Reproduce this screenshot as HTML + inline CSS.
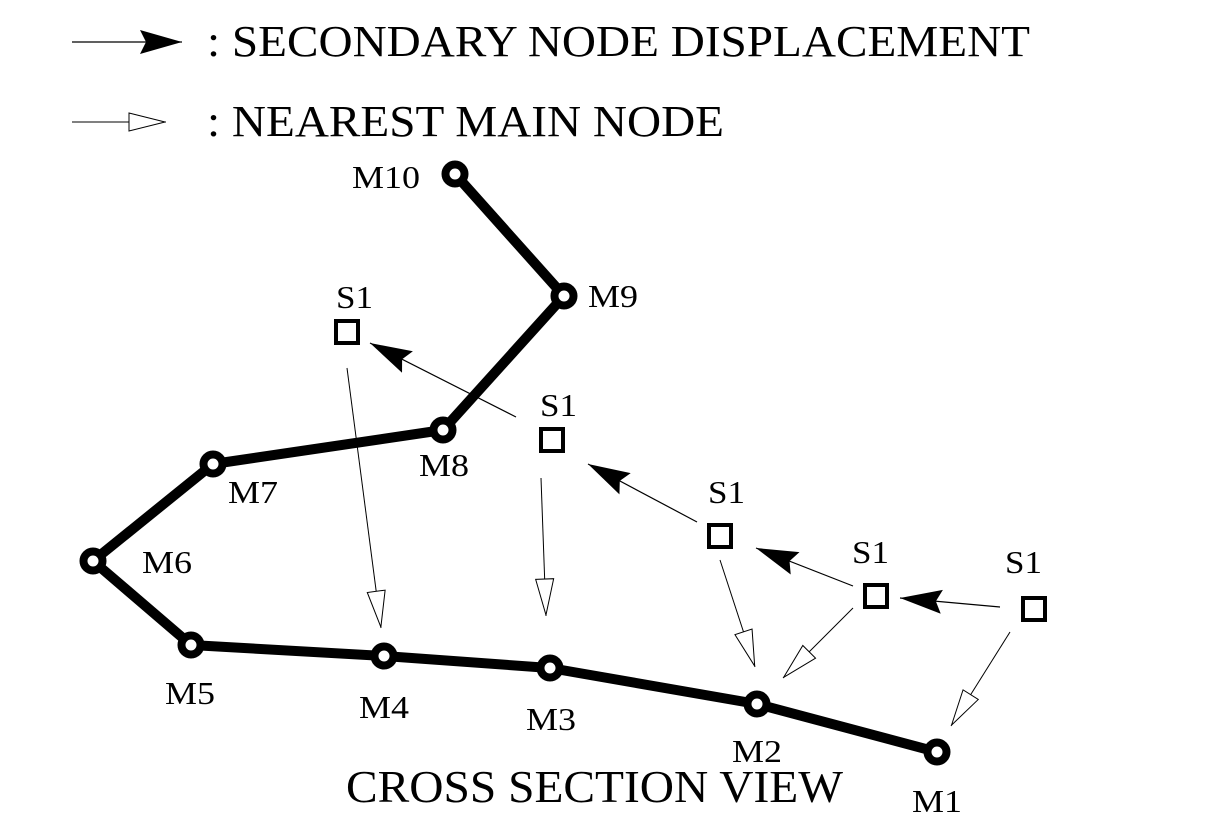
<!DOCTYPE html>
<html><head><style>body{margin:0;background:#fff}svg{display:block}text{font-family:"Liberation Serif",serif;fill:#000}</style></head>
<body>
<svg width="1228" height="830" viewBox="0 0 1228 830" xmlns="http://www.w3.org/2000/svg">
<defs>
<marker id="f" markerWidth="44" markerHeight="26" refX="42" refY="13" orient="auto" markerUnits="userSpaceOnUse"><path d="M0,1 L42,13 L0,25 L6,13 Z" fill="#000"/></marker>
<marker id="h" markerWidth="40" markerHeight="22" refX="38" refY="11" orient="auto" markerUnits="userSpaceOnUse"><path d="M1,2 L37,11 L1,20 Z" fill="#fff" stroke="#000" stroke-width="1"/></marker>
</defs>
<line x1="72" y1="42" x2="182" y2="42" stroke="#000" stroke-width="1.2" marker-end="url(#f)"/>
<text x="207" y="56" font-size="44" textLength="823" lengthAdjust="spacingAndGlyphs">: SECONDARY NODE DISPLACEMENT</text>
<line x1="72" y1="122" x2="166" y2="122" stroke="#000" stroke-width="1" marker-end="url(#h)"/>
<text x="207" y="136" font-size="44" textLength="517" lengthAdjust="spacingAndGlyphs">: NEAREST MAIN NODE</text>
<polyline points="937,752 757,704 550,668 384,656 191,645 93,561 213,464 443,430 564,296 455,174" fill="none" stroke="#000" stroke-width="10" stroke-linejoin="round"/>
<g fill="#fff" stroke="#000" stroke-width="8">
<circle cx="937" cy="752" r="9.5"/><circle cx="757" cy="704" r="9.5"/><circle cx="550" cy="668" r="9.5"/><circle cx="384" cy="656" r="9.5"/><circle cx="191" cy="645" r="9.5"/><circle cx="93" cy="561" r="9.5"/><circle cx="213" cy="464" r="9.5"/><circle cx="443" cy="430" r="9.5"/><circle cx="564" cy="296" r="9.5"/><circle cx="455" cy="174" r="9.5"/>
</g>
<g fill="#fff" stroke="#000" stroke-width="4">
<rect x="336" y="321" width="22" height="22"/><rect x="541" y="429" width="22" height="22"/><rect x="709" y="525" width="22" height="22"/><rect x="865" y="585" width="22" height="22"/><rect x="1023" y="598" width="22" height="22"/>
</g>
<g stroke="#000" stroke-width="1.2">
<line x1="1000" y1="607" x2="900" y2="598" marker-end="url(#f)"/>
<line x1="853" y1="586" x2="756" y2="548" marker-end="url(#f)"/>
<line x1="697" y1="522" x2="588" y2="464" marker-end="url(#f)"/>
<line x1="516" y1="417" x2="370" y2="343" marker-end="url(#f)"/>
</g>
<g stroke="#000" stroke-width="1">
<line x1="347" y1="368" x2="381" y2="628" marker-end="url(#h)"/>
<line x1="541" y1="478" x2="546" y2="616" marker-end="url(#h)"/>
<line x1="720" y1="560" x2="755" y2="667" marker-end="url(#h)"/>
<line x1="853" y1="608" x2="783" y2="678" marker-end="url(#h)"/>
<line x1="1010" y1="632" x2="951" y2="726" marker-end="url(#h)"/>
</g>
<g font-size="32">
<text x="352" y="188" textLength="68" lengthAdjust="spacingAndGlyphs">M10</text>
<text x="588" y="307" textLength="50" lengthAdjust="spacingAndGlyphs">M9</text>
<text x="419" y="476" textLength="50" lengthAdjust="spacingAndGlyphs">M8</text>
<text x="228" y="503" textLength="50" lengthAdjust="spacingAndGlyphs">M7</text>
<text x="142" y="573" textLength="50" lengthAdjust="spacingAndGlyphs">M6</text>
<text x="165" y="704" textLength="50" lengthAdjust="spacingAndGlyphs">M5</text>
<text x="359" y="718" textLength="50" lengthAdjust="spacingAndGlyphs">M4</text>
<text x="526" y="730" textLength="50" lengthAdjust="spacingAndGlyphs">M3</text>
<text x="732" y="762" textLength="50" lengthAdjust="spacingAndGlyphs">M2</text>
<text x="912" y="812" textLength="50" lengthAdjust="spacingAndGlyphs">M1</text>
<text x="336" y="308" textLength="37" lengthAdjust="spacingAndGlyphs">S1</text>
<text x="540" y="416" textLength="37" lengthAdjust="spacingAndGlyphs">S1</text>
<text x="708" y="503" textLength="37" lengthAdjust="spacingAndGlyphs">S1</text>
<text x="852" y="563" textLength="37" lengthAdjust="spacingAndGlyphs">S1</text>
<text x="1005" y="573" textLength="37" lengthAdjust="spacingAndGlyphs">S1</text>
</g>
<text x="346" y="802" font-size="46" textLength="497" lengthAdjust="spacingAndGlyphs">CROSS SECTION VIEW</text>
</svg>
</body></html>
